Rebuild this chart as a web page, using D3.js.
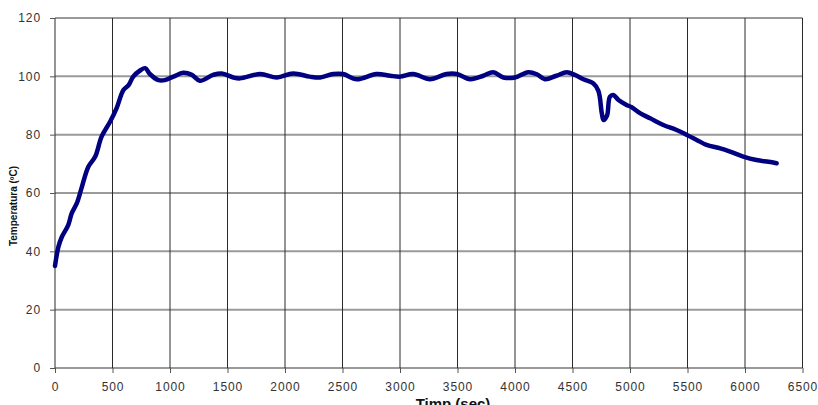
<!DOCTYPE html>
<html><head><meta charset="utf-8">
<script src="https://cdn.jsdelivr.net/npm/d3@7"></script>
<style>body{margin:0;background:#fff}svg{display:block}</style>
</head><body>
<svg id="c" width="818" height="405"></svg>
<script>
const time = [0,30,60,115,145,190,230,290,350,405,480,535,595,640,680,740,785,825,900,955,1030,1115,1190,1260,1375,1450,1550,1610,1785,1930,2070,2215,2305,2420,2505,2625,2795,2915,3000,3115,3260,3405,3495,3610,3725,3810,3900,4000,4115,4190,4260,4360,4450,4520,4595,4680,4725,4755,4770,4800,4825,4855,4900,4970,5015,5090,5175,5290,5405,5495,5580,5665,5785,5870,5985,6100,6205,6275];
const temperature = [35,41.6,45,49,53,56.5,61.6,69,72.5,79.3,84.5,89,95.3,97,99.9,102,102.8,100.8,98.7,98.7,99.9,101.2,100.5,98.5,100.5,101,99.6,99.3,100.8,99.6,101,99.9,99.6,100.8,100.8,99,100.8,100.2,99.9,100.8,99,100.8,100.8,99,100.2,101.4,99.6,99.6,101.4,100.7,99,100.2,101.4,100.5,99,97.6,95,87.3,85,86.5,93,93.6,91.9,90.2,89.4,87.3,85.6,83.3,81.6,79.9,78.2,76.5,75.3,74.2,72.5,71.3,70.7,70.2];
const xTicks = [0,500,1000,1500,2000,2500,3000,3500,4000,4500,5000,5500,6000,6500];
const yTicks = [0,20,40,60,80,100,120];
const xTitle = "Timp (sec)";
const yTitle = "Temperatura (ºC)";

const W = 818, H = 405;
const m = {left:55, right:15.5, top:18, bottom:37};
const svg = d3.select("#c");
const x = d3.scaleLinear().domain([0,6500]).range([m.left, W-m.right]);
const y = d3.scaleLinear().domain([0,120]).range([H-m.bottom, m.top]);

// horizontal gridlines
svg.append("g").selectAll("line").data(yTicks).join("line")
  .attr("x1", x(0)).attr("x2", x(6500))
  .attr("y1", d=>y(d)).attr("y2", d=>y(d))
  .attr("stroke", "#9a9a9a").attr("stroke-width", 2);
// vertical gridlines
svg.append("g").selectAll("line").data(xTicks).join("line")
  .attr("x1", d=>x(d)).attr("x2", d=>x(d))
  .attr("y1", y(120)).attr("y2", y(0))
  .attr("stroke", "#2a2a2a").attr("stroke-width", 1);

// axes
const xAxis = svg.append("g").attr("transform", `translate(0,${y(0)})`)
  .call(d3.axisBottom(x).tickValues(xTicks).tickSize(5).tickPadding(7).tickFormat(d3.format("d")));
const yAxis = svg.append("g").attr("transform", `translate(${x(0)},0)`)
  .call(d3.axisLeft(y).tickValues(yTicks).tickSize(5).tickPadding(9).tickFormat(d3.format("d")));
[xAxis, yAxis].forEach(g => {
  g.select(".domain").remove();
  g.selectAll(".tick line").attr("stroke", "#555");
  g.selectAll("text").attr("fill", "#333").attr("font-family", "Liberation Sans, Arial, sans-serif")
    .attr("font-size", 12).attr("letter-spacing", "0.9px");
});
xAxis.selectAll("text").attr("dy", "0.95em");

// line
const line = d3.line().x((d,i)=>x(time[i])).y(d=>y(d)).curve(d3.curveCatmullRom.alpha(0.5));
svg.append("path").datum(temperature)
  .attr("d", line).attr("fill", "none")
  .attr("stroke", "#000080").attr("stroke-width", 4.5)
  .attr("stroke-linejoin", "round").attr("stroke-linecap", "round");

// titles
svg.append("text").attr("x", 453).attr("y", 409).attr("text-anchor", "middle")
  .attr("font-family", "Liberation Sans, Arial, sans-serif").attr("font-weight", "bold")
  .attr("font-size", 15).attr("fill", "#111").text(xTitle);
svg.append("text").attr("transform", "translate(17,206) rotate(-90)").attr("text-anchor", "middle")
  .attr("font-family", "Liberation Sans, Arial, sans-serif").attr("font-weight", "bold")
  .attr("font-size", 10).attr("fill", "#111").text(yTitle);
</script>
</body></html>
